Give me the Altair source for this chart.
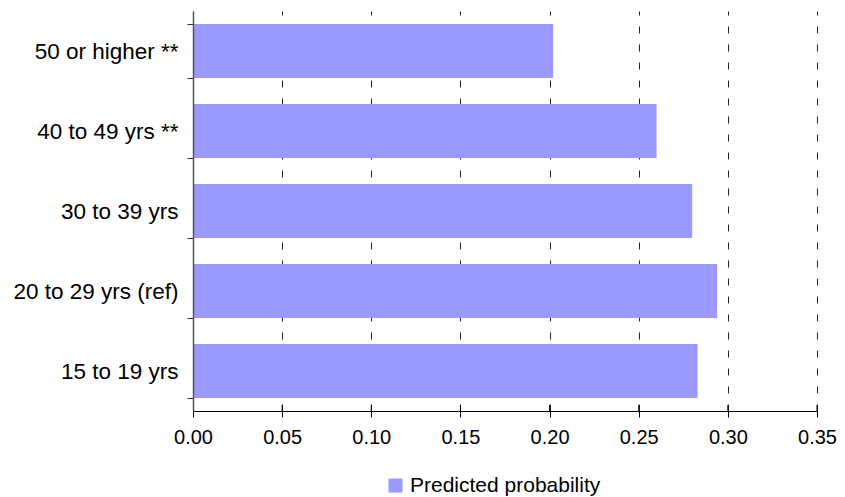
import altair as alt
import pandas as pd

categories = ["50 or higher **", "40 to 49 yrs **", "30 to 39 yrs", "20 to 29 yrs (ref)", "15 to 19 yrs"]
values = [0.202, 0.260, 0.280, 0.294, 0.283]
series_name = "Predicted probability"
x_ticks = [0.0, 0.05, 0.10, 0.15, 0.20, 0.25, 0.30, 0.35]

df = pd.DataFrame({"group": categories, "p": values, "series": [series_name] * len(categories)})
ticks_df = pd.DataFrame({"t": x_ticks[1:]})

FONT = "Liberation Sans"
x_scale = alt.Scale(domain=[0, 0.35], nice=False, zero=True)
H = 400

bars = alt.Chart(df).mark_bar().encode(
    x=alt.X(
        "p:Q",
        scale=x_scale,
        axis=alt.Axis(
            values=x_ticks, format=".2f", title=None, grid=True,
            gridDash=[7, 11], gridColor="#222", gridWidth=1,
            tickSize=6, tickColor="#000", domainColor="#000",
            labelFontSize=20, labelPadding=10, labelColor="#000", labelFont=FONT,
            labelFlush=False, labelOverlap=False,
        ),
    ),
    y=alt.Y(
        "group:N",
        sort=categories,
        scale=alt.Scale(paddingInner=0.325, paddingOuter=0.1625),
        axis=alt.Axis(
            title=None, tickBand="extent", tickSize=6, tickColor="#333",
            domainColor="#555", domainWidth=1.5, labelFontSize=22.5, labelPadding=9,
            labelColor="#000", labelFont=FONT, labelLimit=0,
            minExtent=181, maxExtent=181, zindex=1,
        ),
    ),
    color=alt.Color(
        "series:N",
        scale=alt.Scale(range=["#9999FF"]),
        legend=alt.Legend(
            title=None, orient="none", legendX=192, legendY=464,
            symbolType="square", symbolSize=196, symbolStrokeWidth=0,
            labelFontSize=21, labelFont=FONT, labelColor="#000", labelOffset=4,
            labelLimit=0,
        ),
    ),
)

inner_ticks = alt.Chart(ticks_df).mark_rule(color="#000", strokeWidth=1).encode(
    x=alt.X("t:Q", scale=x_scale),
    y=alt.value(H - 6),
    y2=alt.value(H),
)

chart = alt.layer(bars, inner_ticks).properties(
    width=624, height=H,
    background="#ffffff",
    padding={"left": 4, "top": -8, "right": 0, "bottom": 0},
).configure_view(strokeWidth=0, strokeOpacity=0)

chart.save("out.html", embed_options={"renderer": "svg", "actions": False})
